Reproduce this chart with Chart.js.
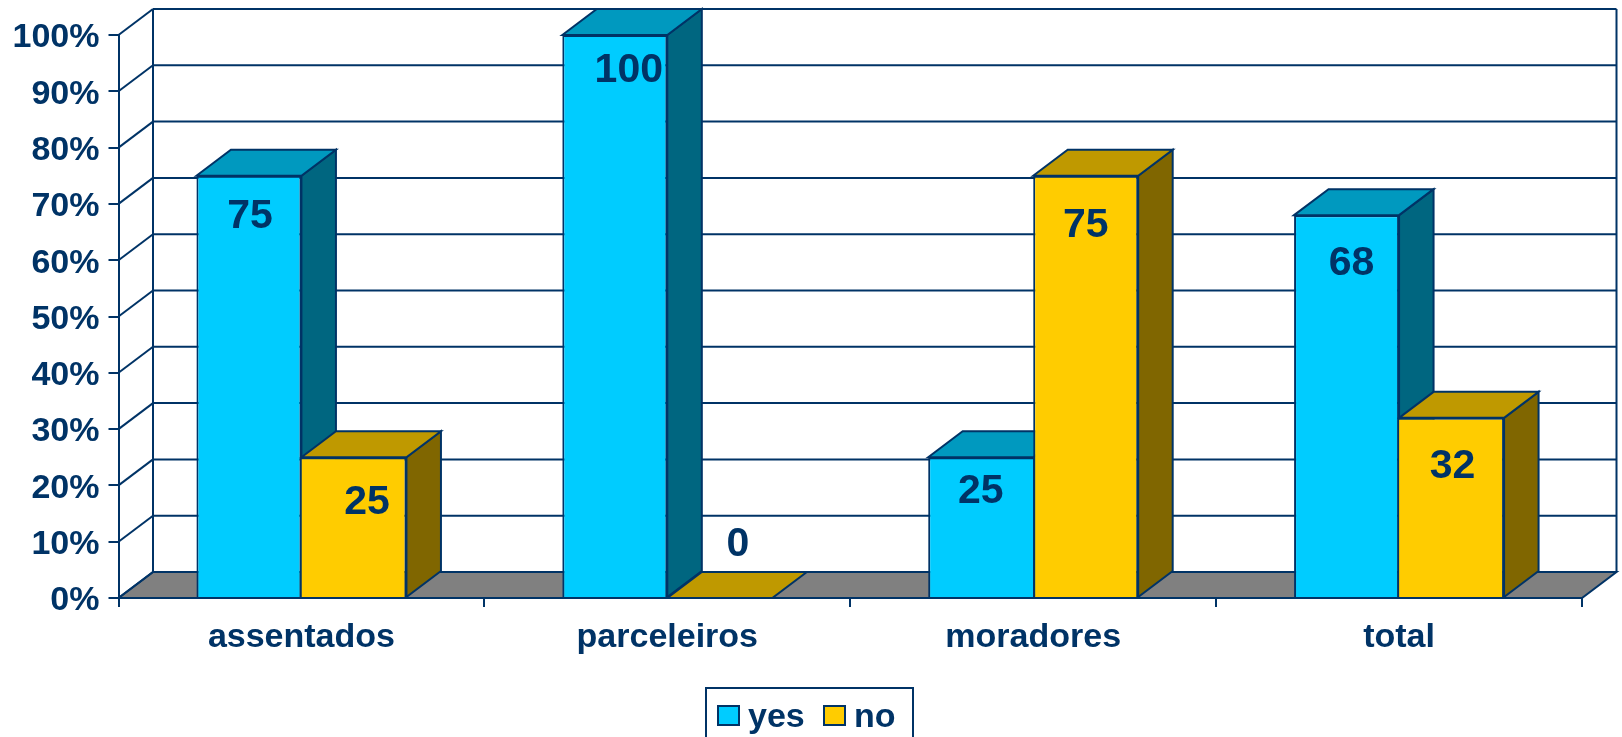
<!DOCTYPE html>
<html>
<head>
<meta charset="utf-8">
<title>yes / no</title>
<script src="https://cdn.jsdelivr.net/npm/chart.js@4"></script>
<style>
  html, body { margin: 0; padding: 0; background: #fff; overflow: hidden; }
  canvas { display: block; }
</style>
</head>
<body>
<canvas id="chart" width="1622" height="737"></canvas>
<script>
// Chart data
const categories = ['assentados', 'parceleiros', 'moradores', 'total'];
const yesValues = [75, 100, 25, 68];
const noValues = [25, 0, 75, 32];
const percentTicks = ['0%', '10%', '20%', '30%', '40%', '50%', '60%', '70%', '80%', '90%', '100%'];

// Colours
const navy = '#003366';
const yesColors = { front: '#00ccff', top: '#0099bf', side: '#006680' };
const noColors = { front: '#ffcc00', top: '#bf9900', side: '#806600' };
const floorColor = '#808080';

// 3D offset of the back wall, and hand placed value labels (px from the top of each bar)
const depthX = 34.5;
const depthY = 26;
const yesLabelNudge = [[1, 41], [14, 36], [0, 34], [5, 49]];
const noLabelNudge = [[13, 45], [18, -53], [0, 50], [1, 49]];

const fontFamily = '"Liberation Sans", Arial, sans-serif';
Chart.defaults.font.family = fontFamily;
Chart.defaults.font.weight = 'bold';
Chart.defaults.color = navy;

function polygon(ctx, points, fill) {
  ctx.beginPath();
  points.forEach((p, i) => i ? ctx.lineTo(p[0], p[1]) : ctx.moveTo(p[0], p[1]));
  ctx.closePath();
  ctx.fillStyle = fill;
  ctx.fill();
  ctx.stroke();
}

function line(ctx, x1, y1, x2, y2) {
  ctx.beginPath();
  ctx.moveTo(x1, y1);
  ctx.lineTo(x2, y2);
  ctx.stroke();
}

// Back wall, floor and the top and side faces of the bars
const box3d = {
  id: 'box3d',
  beforeDatasetsDraw(chart) {
    const { ctx, chartArea: a, scales: { y } } = chart;
    ctx.save();
    ctx.strokeStyle = navy;
    ctx.lineJoin = 'miter';
    ctx.lineWidth = 2;

    polygon(ctx, [[a.left, a.bottom], [a.right, a.bottom], [a.right + depthX, a.bottom - depthY], [a.left + depthX, a.bottom - depthY]], floorColor);

    y.ticks.forEach(t => {
      const py = y.getPixelForValue(t.value);
      line(ctx, a.left, py, a.left + depthX, py - depthY);
      line(ctx, a.left + depthX, py - depthY, a.right + depthX, py - depthY);
    });
    line(ctx, a.left + depthX, a.top - depthY, a.left + depthX, a.bottom - depthY);
    line(ctx, a.right + depthX, a.top - depthY, a.right + depthX, a.bottom - depthY);

    categories.forEach((c, i) => {
      chart.data.datasets.forEach((ds, d) => {
        const bar = chart.getDatasetMeta(d).data[i];
        const colors = d === 0 ? yesColors : noColors;
        const left = bar.x - bar.width / 2;
        const right = bar.x + bar.width / 2;
        if (bar.base > bar.y) {
          polygon(ctx, [[right, bar.y], [right + depthX, bar.y - depthY], [right + depthX, bar.base - depthY], [right, bar.base]], colors.side);
        }
        polygon(ctx, [[left, bar.y], [left + depthX, bar.y - depthY], [right + depthX, bar.y - depthY], [right, bar.y]], colors.top);
      });
    });
    ctx.restore();
  },
  afterDatasetsDraw(chart) {
    const { ctx } = chart;
    ctx.save();
    ctx.fillStyle = navy;
    ctx.textAlign = 'center';
    ctx.textBaseline = 'middle';
    ctx.font = 'bold 41px ' + fontFamily;
    chart.data.datasets.forEach((ds, d) => {
      const nudge = d === 0 ? yesLabelNudge : noLabelNudge;
      chart.getDatasetMeta(d).data.forEach((bar, i) => {
        ctx.fillText(String(ds.data[i]), bar.x + nudge[i][0], bar.y + nudge[i][1]);
      });
    });
    ctx.restore();
  },
  afterDraw(chart) {
    // Legend box, runs off the bottom edge of the picture like the original
    const { ctx } = chart;
    ctx.save();
    ctx.strokeStyle = navy;
    ctx.lineWidth = 2;
    ctx.strokeRect(706, 688, 207, 60);
    ctx.font = 'bold 34px ' + fontFamily;
    ctx.textBaseline = 'middle';
    const swatchX = [718, 824];
    chart.data.datasets.forEach((ds, d) => {
      ctx.fillStyle = ds.backgroundColor;
      ctx.fillRect(swatchX[d], 706, 21, 19);
      ctx.strokeRect(swatchX[d], 706, 21, 19);
      ctx.fillStyle = navy;
      ctx.fillText(ds.label, swatchX[d] + 30, 718);
    });
    ctx.restore();
  }
};

new Chart(document.getElementById('chart'), {
  type: 'bar',
  data: {
    labels: categories,
    datasets: [
      {
        label: 'yes',
        data: yesValues,
        backgroundColor: yesColors.front,
        borderColor: navy,
        borderSkipped: false,
        borderWidth: ctx => ({ top: 2, left: 2, bottom: 0, right: yesValues[ctx.dataIndex] >= noValues[ctx.dataIndex] ? 2 : 0 })
      },
      {
        label: 'no',
        data: noValues,
        backgroundColor: noColors.front,
        borderColor: navy,
        borderSkipped: false,
        borderWidth: ctx => ({ top: 2, right: 2, bottom: 0, left: noValues[ctx.dataIndex] > yesValues[ctx.dataIndex] ? 2 : 0 })
      }
    ]
  },
  plugins: [box3d],
  options: {
    responsive: false,
    animation: false,
    layout: { padding: { top: 35, right: 40, bottom: 0, left: 0 } },
    datasets: { bar: { categoryPercentage: 0.574, barPercentage: 1, inflateAmount: 0 } },
    plugins: { legend: { display: false }, tooltip: { enabled: false } },
    scales: {
      x: {
        afterFit(scale) { scale.height = 139; },
        border: { color: navy, width: 2, z: 1 },
        grid: { color: navy, lineWidth: 2, drawOnChartArea: false, drawTicks: true, tickLength: 9 },
        ticks: { color: navy, font: { size: 34, weight: 'bold' }, padding: 10, maxRotation: 0 }
      },
      y: {
        min: 0,
        max: 100,
        afterFit(scale) { scale.width = 118.5; },
        border: { color: navy, width: 2, z: 1 },
        grid: { color: navy, lineWidth: 2, drawOnChartArea: false, drawTicks: true, tickLength: 10 },
        ticks: {
          color: navy,
          stepSize: 10,
          padding: 9,
          labelOffset: 3,
          font: { size: 34, weight: 'bold' },
          callback: (value, index) => percentTicks[index]
        }
      }
    }
  }
});
</script>
</body>
</html>
